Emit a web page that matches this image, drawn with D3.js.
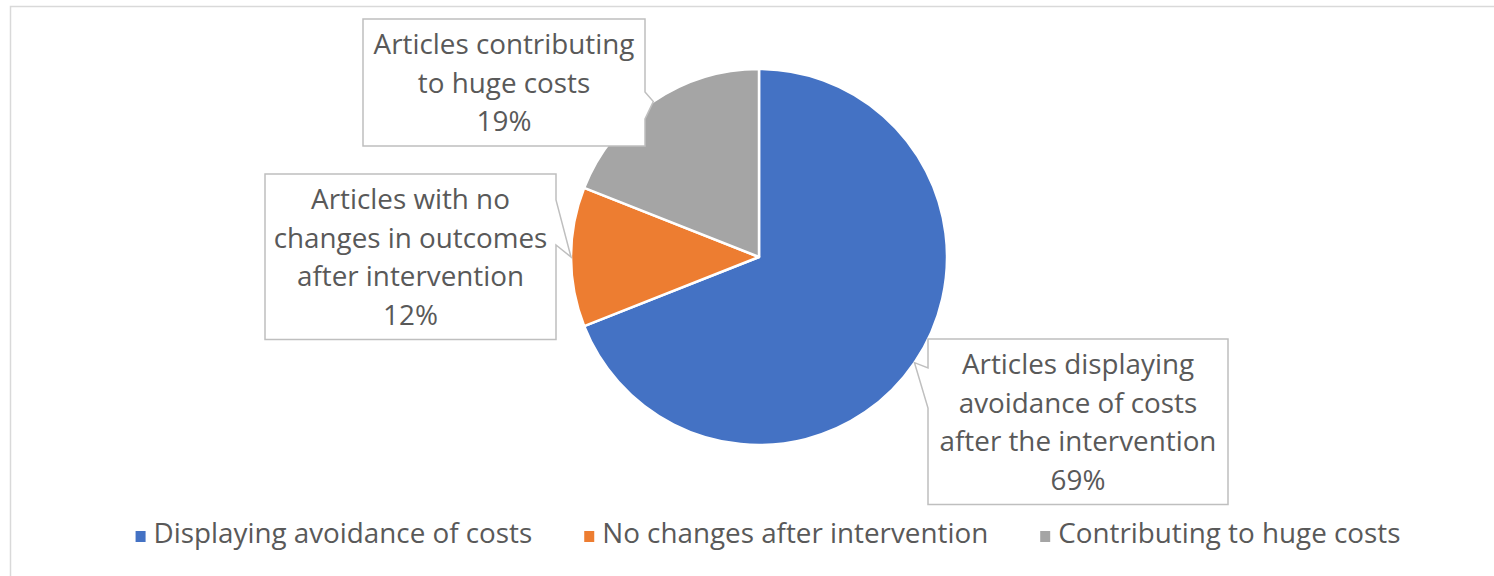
<!DOCTYPE html>
<html>
<head>
<meta charset="utf-8">
<script src="https://d3js.org/d3.v7.min.js"></script>
<style>
body { margin: 0; background: #fff; }
svg text { font-family: "Open Sans", Lato, sans-serif; fill: #595959; }
</style>
</head>
<body>
<svg id="chart"></svg>
<script>
// chart data
var categories = ["Displaying avoidance of costs", "No changes after intervention", "Contributing to huge costs"];
var values = [69, 12, 19];
var colors = ["#4472C4", "#ED7D31", "#A5A5A5"];
var labelLines = [
  ["Articles displaying", "avoidance of costs", "after the intervention"],
  ["Articles with no", "changes in outcomes", "after intervention"],
  ["Articles contributing", "to huge costs"]
];

var width = 1494, height = 576;
var cx = 759, cy = 257, radius = 188;
var fontSize = 27.8, lineH = 38.5;

// callout box placement (box centre x, top y, width, which side the pointer leaves, base offsets)
var boxes = [
  { cx: 1078, top: 339, w: 300, side: "left",  b0: 29, b1: 69 },
  { cx: 410.5, top: 174, w: 291, side: "right", b0: 26, b1: 71 },
  { cx: 504, top: 19,  w: 282, side: "right", b0: 73, b1: 100 }
];

var svg = d3.select("#chart").attr("width", width).attr("height", height);

// outer chart border
svg.append("rect")
  .attr("x", 10.5).attr("y", 6.5)
  .attr("width", width + 20).attr("height", height + 20)
  .attr("fill", "none").attr("stroke", "#d9d9d9").attr("stroke-width", 1.5);

var pie = d3.pie().sort(null).value(function(d) { return d; });
var arcs = pie(values);
var arc = d3.arc().innerRadius(0).outerRadius(radius);

var g = svg.append("g").attr("transform", "translate(" + cx + "," + cy + ")");
g.selectAll("path.slice")
  .data(arcs)
  .enter().append("path")
  .attr("class", "slice")
  .attr("d", arc)
  .attr("fill", function(d, i) { return colors[i]; })
  .attr("stroke", "#fff")
  .attr("stroke-width", 2.5)
  .attr("stroke-linejoin", "round");

// callouts
var tipArc = d3.arc().innerRadius(radius * 2).outerRadius(0);
arcs.forEach(function(d, i) {
  var b = boxes[i];
  var lines = labelLines[i].concat([values[i] + "%"]);
  var h = 50 + (lines.length - 1) * lineH;
  var x0 = b.cx - b.w / 2, x1 = b.cx + b.w / 2, y0 = b.top, y1 = b.top + h;
  var c = tipArc.centroid(d); // point on the outer edge at mid angle
  var tx = cx + c[0], ty = cy + c[1];
  var p = d3.path();
  p.moveTo(x0, y0);
  p.lineTo(x1, y0);
  if (b.side == "right") {
    p.lineTo(x1, y0 + b.b0);
    p.lineTo(tx, ty);
    p.lineTo(x1, y0 + b.b1);
  }
  p.lineTo(x1, y1);
  p.lineTo(x0, y1);
  if (b.side == "left") {
    p.lineTo(x0, y0 + b.b1);
    p.lineTo(tx, ty);
    p.lineTo(x0, y0 + b.b0);
  }
  p.closePath();
  svg.append("path")
    .attr("d", p.toString())
    .attr("fill", "#fff")
    .attr("stroke", "#bfbfbf")
    .attr("stroke-width", 1.5);

  svg.append("g").selectAll("text")
    .data(lines)
    .enter().append("text")
    .attr("x", b.cx)
    .attr("y", function(t, j) { return y0 + 35 + j * lineH; })
    .attr("text-anchor", "middle")
    .style("font-size", fontSize + "px")
    .text(function(t) { return t; });
});

// legend
var legend = svg.append("g");
var items = legend.selectAll("g").data(categories).enter().append("g");
items.append("rect")
  .attr("width", 10).attr("height", 11)
  .attr("y", -12)
  .attr("fill", function(d, i) { return colors[i]; });
items.append("text")
  .attr("x", 18)
  .style("font-size", fontSize + "px")
  .text(function(d) { return d; });

var gap = 52, xPos = 0, offs = [];
items.each(function() {
  offs.push(xPos);
  xPos += 18 + d3.select(this).select("text").node().getComputedTextLength() + gap;
});
var total = xPos - gap;
var startX = 768 - total / 2;
items.attr("transform", function(d, i) { return "translate(" + (startX + offs[i]) + ",543)"; });
</script>
</body>
</html>
